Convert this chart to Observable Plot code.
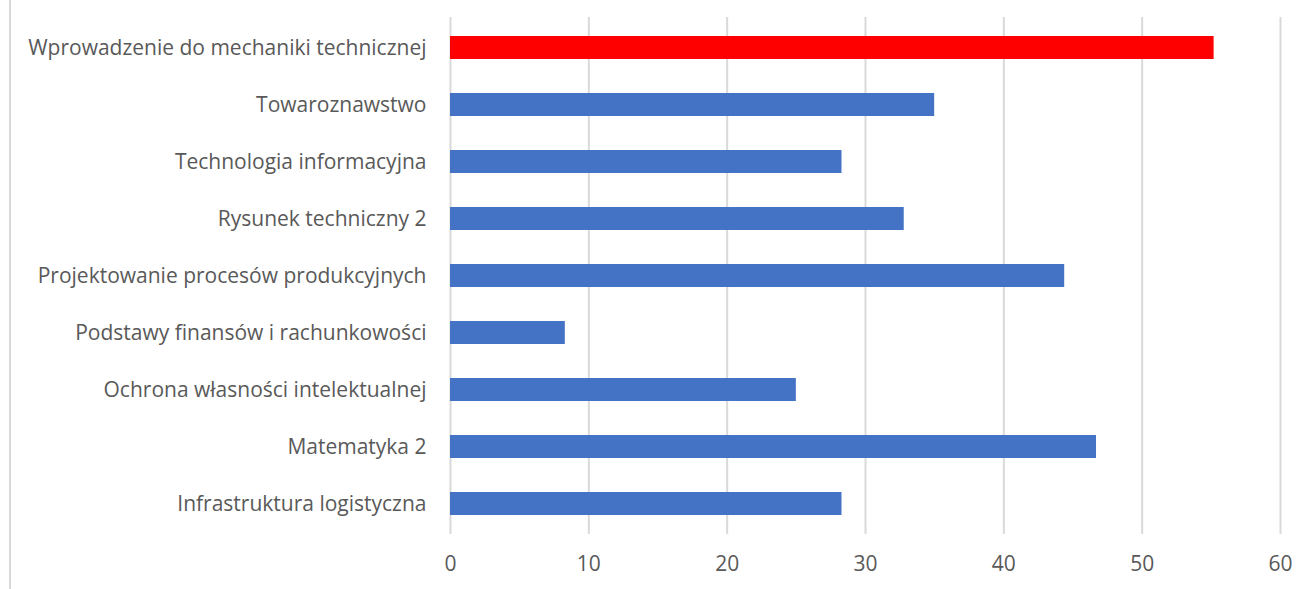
<!DOCTYPE html>
<html>
<head>
<meta charset="utf-8">
<script src="https://cdn.jsdelivr.net/npm/d3@7"></script>
<script src="https://cdn.jsdelivr.net/npm/@observablehq/plot@0.6"></script>
<style>
  html, body { margin: 0; padding: 0; background: #fff; }
  #wrap { position: relative; width: 1311px; height: 589px; }
  #border { position: absolute; left: 9px; top: 0; width: 2px; height: 589px; background: #d9d9d9; }
  svg { position: absolute; left: 0; top: 0; }
</style>
</head>
<body>
<div id="wrap"><div id="border"></div></div>
<script>
const subjects = [
  "Wprowadzenie do mechaniki technicznej",
  "Towaroznawstwo",
  "Technologia informacyjna",
  "Rysunek techniczny 2",
  "Projektowanie procesów produkcyjnych",
  "Podstawy finansów i rachunkowości",
  "Ochrona własności intelektualnej",
  "Matematyka 2",
  "Infrastruktura logistyczna"
];
const values = [55.2, 35.0, 28.3, 32.8, 44.4, 8.3, 25.0, 46.7, 28.3];
const highlighted = ["Wprowadzenie do mechaniki technicznej"];
const xTicks = [0, 10, 20, 30, 40, 50, 60];

const data = subjects.map((s, i) => ({subject: s, value: values[i], hi: highlighted.includes(s)}));

const chart = Plot.plot({
  width: 1311,
  height: 589,
  marginLeft: 450,
  marginRight: 31,
  marginTop: 17,
  marginBottom: 55,
  style: {fontFamily: "'Open Sans', sans-serif", fontSize: "21px", color: "#595959", background: "transparent"},
  x: {domain: [0, 60], ticks: xTicks, label: null},
  y: {domain: subjects, label: null, paddingInner: 0.6, paddingOuter: 0.3},
  marks: [
    Plot.ruleX(xTicks, {stroke: "#d9d9d9", strokeWidth: 2}),
    Plot.barX(data, {x: "value", y: "subject", fill: d => d.hi ? "#ff0000" : "#4472c4"}),
    Plot.axisX({ticks: xTicks, tickSize: 0, tickPadding: 22, fontSize: 21, fill: "#595959", label: null}),
    Plot.axisY({tickSize: 0, tickPadding: 24, fontSize: 21, fill: "#595959", label: null})
  ]
});
document.getElementById("wrap").appendChild(chart);
</script>
</body>
</html>
